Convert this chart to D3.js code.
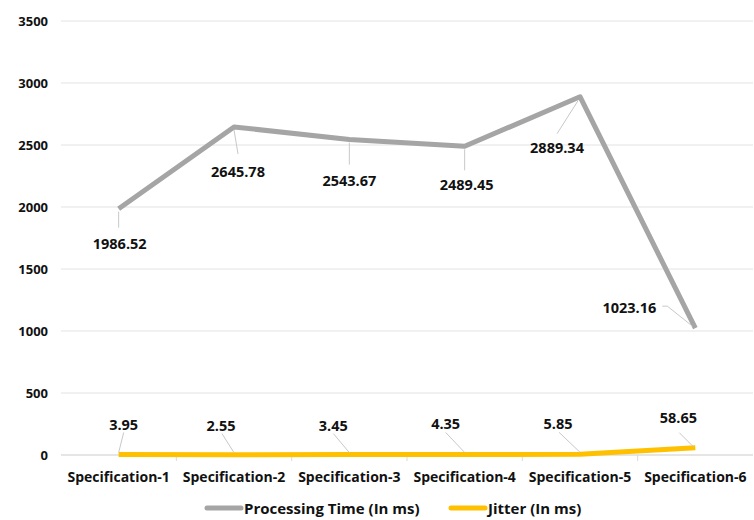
<!DOCTYPE html>
<html>
<head>
<meta charset="utf-8">
<script src="https://cdn.jsdelivr.net/npm/d3@7"></script>
<style>
  html, body { margin: 0; padding: 0; background: #ffffff; }
  svg text { font-family: "Open Sans", Lato, sans-serif; font-weight: 700; fill: #111; }
</style>
</head>
<body>
<svg id="chart" width="754" height="520"></svg>
<script>
// Categories and series
const categories = ["Specification-1", "Specification-2", "Specification-3", "Specification-4", "Specification-5", "Specification-6"];
const processingTime = [1986.52, 2645.78, 2543.67, 2489.45, 2889.34, 1023.16];
const jitter = [3.95, 2.55, 3.45, 4.35, 5.85, 58.65];
const yTicks = [0, 500, 1000, 1500, 2000, 2500, 3000, 3500];
const seriesNames = ["Processing Time (In ms)", "Jitter (In ms)"];

// Label placement relative to each point: [label dx, label dy, leader path as offsets]
const ptLabelLayout = [
  { dx: 1,   dy: 35, leader: [[0, 3], [0, 19]] },
  { dx: 4,   dy: 45, leader: [[0, 3], [4, 27]] },
  { dx: 0,   dy: 41, leader: [[0, 3], [0, 25]] },
  { dx: 2,   dy: 38, leader: [[0, 3], [0, 24]] },
  { dx: -23, dy: 51, leader: [[-2, 4], [-23, 37]] },
  { dx: -66, dy: -21, leader: [[-3, -2], [-28, -22], [-33, -22]] }
];
const jtLabelLayout = [
  { dx: 5,   dy: -30, leader: [[0, -2], [5, -22]] },
  { dx: -13, dy: -29, leader: [[0, -2], [-12, -21]] },
  { dx: -16, dy: -29, leader: [[0, -2], [-16, -21]] },
  { dx: -19, dy: -31, leader: [[0, -2], [-19, -22]] },
  { dx: -22, dy: -31, leader: [[0, -2], [-21, -22]] },
  { dx: -17, dy: -30, leader: [[-2, -1], [-16, -15]] }
];

const svg = d3.select("#chart");
const margin = { left: 61, right: 1, top: 21, bottom: 65 };
const W = 754, H = 520;

const x = d3.scalePoint().domain(categories).range([margin.left, W - margin.right]).padding(0.5);
const xBand = d3.scaleBand().domain(categories).range([margin.left, W - margin.right]);
const y = d3.scaleLinear().domain([0, 3500]).range([H - margin.bottom, margin.top]);

// Horizontal gridlines
svg.append("g")
  .selectAll("line")
  .data(yTicks)
  .join("line")
  .attr("x1", margin.left).attr("x2", W - margin.right)
  .attr("y1", d => y(d)).attr("y2", d => y(d))
  .attr("stroke", "#e3e3e3").attr("stroke-width", 1);

// Y axis labels
const yAxis = d3.axisLeft(y).tickValues(yTicks).tickFormat(d3.format("d")).tickSize(0).tickPadding(13);
const gy = svg.append("g").attr("transform", `translate(${margin.left},0)`).call(yAxis);
gy.select(".domain").remove();
gy.selectAll("text").style("font-size", "13px").attr("fill", "#111");

// X axis with ticks between categories
const gx = svg.append("g").attr("transform", `translate(0,${y(0)})`);
gx.append("line").attr("x1", margin.left).attr("x2", W - margin.right)
  .attr("stroke", "#d9d9d9");
gx.selectAll("line.tick")
  .data(categories.slice(1))
  .join("line")
  .attr("class", "tick")
  .attr("x1", d => xBand(d)).attr("x2", d => xBand(d))
  .attr("y1", 0).attr("y2", 6)
  .attr("stroke", "#d9d9d9");
gx.selectAll("text")
  .data(categories)
  .join("text")
  .attr("x", d => x(d))
  .attr("y", 27)
  .attr("text-anchor", "middle")
  .style("font-size", "14px")
  .text(d => d);

const line = d3.line().x((d, i) => x(categories[i])).y(d => y(d));

// Series lines
svg.append("path").datum(processingTime)
  .attr("d", line)
  .attr("fill", "none").attr("stroke", "#a5a5a5").attr("stroke-width", 5)
  .attr("stroke-linejoin", "round");
svg.append("path").datum(jitter)
  .attr("d", line)
  .attr("fill", "none").attr("stroke", "#ffc000").attr("stroke-width", 5)
  .attr("stroke-linejoin", "round");

// Data labels with leader lines
function drawLabels(values, layout) {
  const g = svg.append("g");
  values.forEach((v, i) => {
    const px = x(categories[i]), py = y(v);
    const L = layout[i];
    g.append("path")
      .attr("d", d3.line()(L.leader.map(p => [px + p[0], py + p[1]])))
      .attr("fill", "none").attr("stroke", "#c8c8c8").attr("stroke-width", 1);
    g.append("text")
      .attr("x", px + L.dx).attr("y", py + L.dy)
      .attr("text-anchor", "middle")
      .attr("dominant-baseline", "central")
      .style("font-size", "14.5px")
      .text(v.toFixed(2));
  });
}
drawLabels(processingTime, ptLabelLayout);
drawLabels(jitter, jtLabelLayout);

// Legend
const legend = svg.append("g").attr("transform", "translate(0,508)");
const legendItems = [
  { name: seriesNames[0], color: "#a5a5a5", x: 207 },
  { name: seriesNames[1], color: "#ffc000", x: 451 }
];
legendItems.forEach(it => {
  legend.append("line")
    .attr("x1", it.x).attr("x2", it.x + 34)
    .attr("stroke", it.color).attr("stroke-width", 5).attr("stroke-linecap", "round");
  legend.append("text")
    .attr("x", it.x + 37).attr("y", 0)
    .attr("dominant-baseline", "central")
    .style("font-size", "15px")
    .text(it.name);
});
</script>
</body>
</html>
